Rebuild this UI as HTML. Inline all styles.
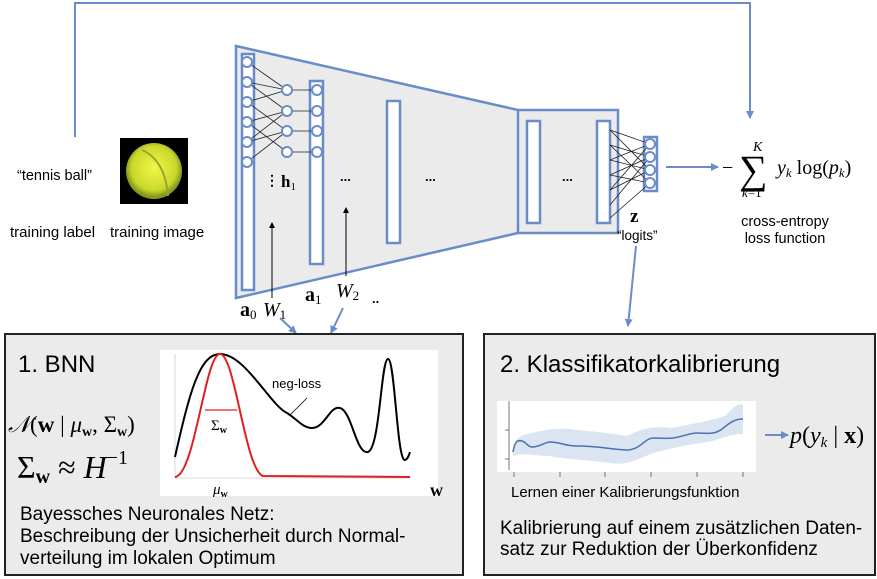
<!DOCTYPE html>
<html><head><meta charset="utf-8"><style>
body{margin:0;background:#fff;}
svg{display:block;font-family:"Liberation Sans",sans-serif;}
.m{font-family:"Liberation Serif",serif;}
</style></head><body>
<svg width="877" height="579" viewBox="0 0 877 579" xmlns="http://www.w3.org/2000/svg">
<defs>
<marker id="ab" markerWidth="8" markerHeight="8" refX="7" refY="4" orient="auto" markerUnits="userSpaceOnUse"><path d="M0,0 L8,4 L0,8 z" fill="#6a8cc8"/></marker>
<marker id="ak" markerWidth="6" markerHeight="6" refX="5" refY="3" orient="auto" markerUnits="userSpaceOnUse"><path d="M0,0 L6,3 L0,6 z" fill="#000"/></marker>
<radialGradient id="ball" cx="50%" cy="45%" r="50%"><stop offset="0" stop-color="#f2f74a"/><stop offset="0.8" stop-color="#c9d82a"/><stop offset="1" stop-color="#8a9a20"/></radialGradient>
</defs>
<polyline points="75,137 75,3 750,3 750,118" fill="none" stroke="#6a8cc8" stroke-width="2" marker-end="url(#ab)"/>
<text x="17" y="180" font-size="14.5">“tennis ball”</text>
<rect x="120" y="138" width="68" height="66" fill="#000"/>
<circle cx="154" cy="171" r="28" fill="url(#ball)"/>
<path d="M142,150 Q165,160 168,196" stroke="#9aa52a" stroke-width="2" fill="none"/>
<text x="10" y="237" font-size="15">training label</text>
<text x="110" y="237" font-size="15">training image</text>
<polygon points="236,46 518,110 618,110 618,233 518,233 236,298" fill="#ebebeb" stroke="#6a8cc8" stroke-width="2.5"/>
<line x1="518" y1="110" x2="518" y2="233" stroke="#6a8cc8" stroke-width="2.5"/>
<g fill="#fff" stroke="#6a8cc8" stroke-width="2.5">
<rect x="242" y="54" width="12" height="236"/>
<rect x="310" y="81" width="13" height="183"/>
<rect x="387" y="101" width="13" height="142"/>
<rect x="527" y="121" width="13" height="102"/>
<rect x="597" y="121" width="13" height="102"/>
<rect x="644" y="137" width="13" height="54"/>
</g>
<g stroke="#222" stroke-width="0.8">
<line x1="247" y1="62" x2="287" y2="90"/><line x1="247" y1="82" x2="287" y2="111"/><line x1="247" y1="102" x2="287" y2="131"/><line x1="247" y1="122" x2="287" y2="152"/>
<line x1="247" y1="82" x2="287" y2="90"/><line x1="247" y1="102" x2="287" y2="90"/><line x1="247" y1="122" x2="287" y2="111"/><line x1="247" y1="142" x2="287" y2="111"/><line x1="247" y1="142" x2="287" y2="131"/><line x1="247" y1="162" x2="287" y2="131"/>
<line x1="287" y1="90" x2="317" y2="90"/><line x1="287" y1="111" x2="317" y2="111"/><line x1="287" y1="131" x2="317" y2="131"/><line x1="287" y1="152" x2="317" y2="152"/>
<line x1="610" y1="130" x2="650" y2="144"/><line x1="610" y1="130" x2="650" y2="170"/><line x1="610" y1="145" x2="650" y2="157"/><line x1="610" y1="145" x2="650" y2="183"/><line x1="610" y1="160" x2="650" y2="144"/><line x1="610" y1="160" x2="650" y2="170"/><line x1="610" y1="175" x2="650" y2="157"/><line x1="610" y1="175" x2="650" y2="183"/><line x1="610" y1="190" x2="650" y2="144"/><line x1="610" y1="190" x2="650" y2="170"/><line x1="610" y1="205" x2="650" y2="157"/><line x1="610" y1="218" x2="650" y2="183"/>
</g>
<g fill="#fff" stroke="#6a8cc8" stroke-width="2">
<circle cx="247" cy="62" r="5"/><circle cx="247" cy="82" r="5"/><circle cx="247" cy="102" r="5"/><circle cx="247" cy="122" r="5"/><circle cx="247" cy="142" r="5"/><circle cx="247" cy="162" r="5"/>
<circle cx="287" cy="90" r="5"/><circle cx="287" cy="111" r="5"/><circle cx="287" cy="131" r="5"/><circle cx="287" cy="152" r="5"/>
<circle cx="317" cy="90" r="5"/><circle cx="317" cy="111" r="5"/><circle cx="317" cy="131" r="5"/><circle cx="317" cy="152" r="5"/>
<circle cx="650" cy="144" r="5"/><circle cx="650" cy="157" r="5"/><circle cx="650" cy="170" r="5"/><circle cx="650" cy="183" r="5"/>
</g>
<text x="265" y="185" font-size="14" font-weight="bold">⋮</text>
<text x="281" y="187" class="m" font-size="17" font-weight="bold">h<tspan font-size="11" font-weight="normal" dy="3">1</tspan></text>
<text x="340" y="181" font-size="13" font-weight="bold">...</text>
<text x="425" y="181" font-size="13" font-weight="bold">...</text>
<text x="562" y="181" font-size="13" font-weight="bold">...</text>
<line x1="272" y1="298" x2="272" y2="223" stroke="#000" stroke-width="1" marker-end="url(#ak)"/>
<line x1="346" y1="276" x2="346" y2="208" stroke="#000" stroke-width="1" marker-end="url(#ak)"/>
<text x="240" y="316" class="m" font-size="20" font-weight="bold">a<tspan font-size="13" font-weight="normal" dy="3">0</tspan></text>
<text x="263" y="316" class="m" font-size="20" font-style="italic">W<tspan font-size="13" font-style="normal" dy="3">1</tspan></text>
<text x="305" y="301" class="m" font-size="20" font-weight="bold">a<tspan font-size="13" font-weight="normal" dy="3">1</tspan></text>
<text x="336" y="297" class="m" font-size="20" font-style="italic">W<tspan font-size="13" font-style="normal" dy="3">2</tspan></text>
<text x="372" y="303" font-size="13" font-weight="bold">..</text>
<text x="630" y="222" class="m" font-size="19" font-weight="bold">z</text>
<text x="617" y="240" font-size="13.5">“logits”</text>
<line x1="280" y1="318" x2="296" y2="333" stroke="#6a8cc8" stroke-width="2" marker-end="url(#ab)"/>
<line x1="343" y1="308" x2="331" y2="333" stroke="#6a8cc8" stroke-width="2" marker-end="url(#ab)"/>
<line x1="636" y1="246" x2="628" y2="326" stroke="#6a8cc8" stroke-width="2" marker-end="url(#ab)"/>
<line x1="666" y1="167" x2="718" y2="167" stroke="#6a8cc8" stroke-width="2" marker-end="url(#ab)"/>
<text x="722" y="174" class="m" font-size="20">−</text>
<text x="739" y="183" class="m" font-size="40">∑</text>
<text x="753" y="151" class="m" font-size="14" font-style="italic">K</text>
<text x="742" y="197" class="m" font-size="13"><tspan font-style="italic">k</tspan>=1</text>
<text x="777" y="174" class="m" font-size="20"><tspan font-style="italic">y</tspan><tspan font-size="13" font-style="italic" dy="3">k</tspan><tspan dy="-3"> log(</tspan><tspan font-style="italic">p</tspan><tspan font-size="13" font-style="italic" dy="3">k</tspan><tspan dy="-3">)</tspan></text>
<text x="785" y="226" font-size="14.5" text-anchor="middle">cross-entropy</text>
<text x="785" y="243" font-size="14.5" text-anchor="middle">loss function</text>
<rect x="5" y="334" width="458" height="241" fill="#ebebeb" stroke="#222" stroke-width="2"/>
<text x="18" y="372" font-size="24">1. BNN</text>
<rect x="160" y="350" width="278" height="146" fill="#fff"/>
<line x1="175" y1="478" x2="410" y2="478" stroke="#ccc" stroke-width="0.8"/>
<line x1="175" y1="354" x2="175" y2="478" stroke="#ccc" stroke-width="0.8"/>
<path d="M175,457 C190,390 200,354 220,354 C245,354 270,405 287,413 C298,420 303,428 312,428 C325,428 330,405 340,408 C352,411 356,455 368,452 C380,448 381,359 388,359 C395,359 397,462 405,460 C408,459 409,455 410,452" fill="none" stroke="#000" stroke-width="2"/>
<path d="M175,477 C195,475 205,354 220,354 C235,354 245,470 263,476 L410,477" fill="none" stroke="#e02020" stroke-width="2"/>
<line x1="205" y1="410" x2="237" y2="410" stroke="#e02020" stroke-width="1.2"/>
<text x="211" y="430" class="m" font-size="15">Σ<tspan font-size="10" font-weight="bold" dy="3">w</tspan></text>
<text x="272" y="388" font-size="13">neg-loss</text>
<line x1="290" y1="415" x2="307" y2="398" stroke="#000" stroke-width="0.8"/>
<text x="213" y="494" class="m" font-size="15" font-style="italic">μ<tspan font-size="10" font-weight="bold" font-style="normal" dy="3">w</tspan></text>
<text x="430" y="496" class="m" font-size="18" font-weight="bold">w</text>
<text x="8" y="432" class="m" font-size="23"><tspan font-style="italic">𝒩</tspan>(<tspan font-weight="bold">w</tspan> | <tspan font-style="italic">μ</tspan><tspan font-size="14" font-weight="bold" dy="4">w</tspan><tspan dy="-4">, Σ</tspan><tspan font-size="14" font-weight="bold" dy="4">w</tspan><tspan dy="-4">)</tspan></text>
<text x="17" y="478" class="m" font-size="32">Σ<tspan font-size="20" font-weight="bold" dy="5">w</tspan><tspan dy="-5"> ≈ </tspan><tspan font-style="italic">H</tspan><tspan font-size="20" dy="-14">−1</tspan></text>
<text x="20" y="520" font-size="19">Bayessches Neuronales Netz:</text>
<text x="20" y="542" font-size="19">Beschreibung der Unsicherheit durch Normal-</text>
<text x="20" y="564" font-size="19">verteilung im lokalen Optimum</text>
<rect x="484" y="334" width="391" height="241" fill="#ebebeb" stroke="#222" stroke-width="2"/>
<text x="500" y="372" font-size="24">2. Klassifikatorkalibrierung</text>
<rect x="497" y="401" width="259" height="71" fill="#fff"/>
<g stroke="#555" stroke-width="0.8"><line x1="509" y1="401" x2="509" y2="470"/><line x1="505" y1="430" x2="509" y2="430"/><line x1="505" y1="459" x2="509" y2="459"/>
<line x1="514" y1="472" x2="514" y2="477"/><line x1="560" y1="472" x2="560" y2="477"/><line x1="605" y1="472" x2="605" y2="477"/><line x1="651" y1="472" x2="651" y2="477"/><line x1="697" y1="472" x2="697" y2="477"/><line x1="743" y1="472" x2="743" y2="477"/></g>
<path d="M513,448 C516,436 522,435 532,433 C545,430 560,427 577,430 C600,432 615,434 627,436 C640,430 650,425 673,428 C690,424 710,421 725,416 C733,408 738,402 743,405 L743,434 C735,434 728,436 713,441 C695,444 680,446 653,453 C640,458 628,466 610,463 C590,460 570,460 550,456 C535,456 522,452 513,456 Z" fill="#dbe4f1"/>
<path d="M513,452 C515,440 518,440 522,441 C526,442 528,447 532,447 C540,447 545,442 550,442 C560,442 565,446 577,446 C600,446 615,450 627,450 C640,450 645,438 653,438 C662,438 665,439 673,438 C685,436 690,433 697,433 C705,433 708,434 713,433 C725,431 728,419 743,419" fill="none" stroke="#4a72b0" stroke-width="1.5"/>
<line x1="765" y1="435" x2="788" y2="435" stroke="#6a8cc8" stroke-width="2" marker-end="url(#ab)"/>
<text x="790" y="443" class="m" font-size="24"><tspan font-style="italic">p</tspan>(<tspan font-style="italic">y</tspan><tspan font-size="15" font-style="italic" dy="4">k</tspan><tspan dy="-4"> | </tspan><tspan font-weight="bold">x</tspan>)</text>
<text x="511" y="497" font-size="15">Lernen einer Kalibrierungsfunktion</text>
<text x="500" y="534" font-size="19">Kalibrierung auf einem zusätzlichen Daten-</text>
<text x="500" y="555" font-size="19">satz zur Reduktion der Überkonfidenz</text>
</svg>
</body></html>
